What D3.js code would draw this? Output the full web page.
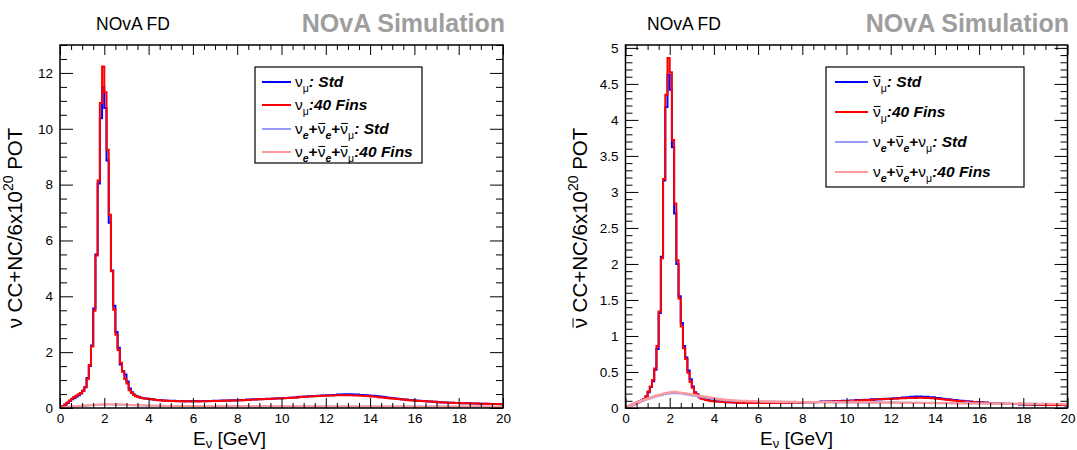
<!DOCTYPE html>
<html><head><meta charset="utf-8">
<script src="https://cdn.jsdelivr.net/npm/d3@7"></script>
<style>html,body{margin:0;padding:0;background:#fff;}svg{display:block;}</style>
</head><body>
<svg id="c" width="1077" height="450"></svg>
<script>
// ---------------- DATA (bin contents, 0.1 GeV bins from 0 to 20 GeV) ----------------
const binLow = d3.range(0, 200).map(i => +(i * 0.1).toFixed(1));
const xMajorTicks = [0,2,4,6,8,10,12,14,16,18,20];
const yMajorLeft = [0,2,4,6,8,10,12];
const yMajorRight = [0,0.5,1,1.5,2,2.5,3,3.5,4,4.5,5];

// Left: neutrino mode
const L_numu_std = [0.02,0.06,0.12,0.18,0.25,0.31,0.36,0.41,0.46,0.52,
 0.62,0.74,1.07,1.50,2.24,3.56,5.50,8.04,10.38,11.49,
 10.74,8.86,6.63,4.92,3.66,2.72,2.16,1.56,1.32,1.20,
 0.95,0.70,0.56,0.48,0.43,0.40,0.37,0.36,0.34,0.33,
 0.32,0.31,0.30,0.29,0.29,0.28,0.27,0.27,0.26,0.26,
 0.25,0.26,0.25,0.25,0.24,0.25,0.24,0.24,0.25,0.24,
 0.24,0.25,0.24,0.24,0.25,0.24,0.25,0.25,0.25,0.26,
 0.25,0.26,0.26,0.27,0.26,0.27,0.27,0.28,0.27,0.28,
 0.28,0.29,0.28,0.29,0.30,0.29,0.30,0.31,0.30,0.31,
 0.31,0.32,0.32,0.33,0.32,0.33,0.34,0.34,0.35,0.35,
 0.35,0.36,0.36,0.37,0.37,0.38,0.38,0.39,0.40,0.40,
 0.41,0.41,0.42,0.42,0.43,0.43,0.44,0.44,0.45,0.45,
 0.46,0.46,0.46,0.47,0.47,0.48,0.48,0.48,0.49,0.49,
 0.49,0.49,0.48,0.48,0.48,0.47,0.47,0.46,0.46,0.45,
 0.44,0.44,0.43,0.42,0.41,0.40,0.39,0.38,0.37,0.36,
 0.35,0.34,0.33,0.32,0.31,0.30,0.30,0.29,0.28,0.28,
 0.27,0.26,0.26,0.25,0.25,0.24,0.23,0.23,0.22,0.22,
 0.21,0.21,0.21,0.20,0.20,0.19,0.19,0.19,0.18,0.18,
 0.18,0.17,0.17,0.17,0.17,0.16,0.16,0.16,0.16,0.15,
 0.15,0.15,0.15,0.15,0.14,0.14,0.14,0.14,0.14,0.13];

const L_numu_fins = [0.02,0.07,0.13,0.20,0.27,0.33,0.39,0.44,0.49,0.54,
 0.62,0.75,1.04,1.54,2.20,3.48,5.46,8.15,10.92,12.23,
 11.31,9.25,6.92,4.90,3.52,2.62,2.08,1.62,1.30,1.04,
 0.88,0.64,0.54,0.47,0.42,0.39,0.37,0.35,0.34,0.33,
 0.32,0.31,0.30,0.29,0.28,0.28,0.27,0.26,0.26,0.25,
 0.25,0.25,0.24,0.25,0.24,0.24,0.23,0.24,0.24,0.23,
 0.24,0.24,0.23,0.24,0.24,0.24,0.24,0.24,0.25,0.25,
 0.25,0.25,0.26,0.26,0.26,0.27,0.26,0.27,0.27,0.27,
 0.28,0.28,0.28,0.29,0.29,0.29,0.30,0.30,0.30,0.31,
 0.31,0.31,0.32,0.32,0.32,0.33,0.33,0.34,0.34,0.34,
 0.35,0.35,0.36,0.36,0.37,0.37,0.38,0.38,0.39,0.39,
 0.40,0.40,0.41,0.41,0.42,0.42,0.43,0.43,0.44,0.44,
 0.44,0.45,0.45,0.45,0.46,0.46,0.46,0.46,0.46,0.46,
 0.46,0.46,0.45,0.45,0.45,0.44,0.44,0.43,0.43,0.42,
 0.41,0.41,0.40,0.39,0.38,0.38,0.37,0.36,0.35,0.34,
 0.34,0.33,0.32,0.31,0.30,0.30,0.29,0.28,0.28,0.27,
 0.26,0.26,0.25,0.25,0.24,0.24,0.23,0.23,0.22,0.22,
 0.21,0.21,0.20,0.20,0.20,0.19,0.19,0.19,0.18,0.18,
 0.18,0.17,0.17,0.17,0.17,0.16,0.16,0.16,0.16,0.15,
 0.15,0.15,0.15,0.14,0.14,0.14,0.14,0.14,0.13,0.13];

const L_bkg_std = [0.00,0.01,0.02,0.03,0.04,0.05,0.06,0.065,0.07,0.075,
 0.08,0.085,0.09,0.095,0.10,0.105,0.11,0.115,0.12,0.12,
 0.125,0.125,0.125,0.125,0.125,0.12,0.12,0.12,0.115,0.11,
 0.11,0.105,0.10,0.10,0.095,0.095,0.09,0.09,0.09,0.085,
 0.085,0.08,0.08,0.08,0.078,0.077,0.076,0.075,0.073,0.072,
 0.07,0.07,0.069,0.07,0.068,0.068,0.069,0.067,0.066,0.067,
 0.066,0.065,0.066,0.064,0.065,0.064,0.063,0.064,0.063,0.062,
 0.063,0.062,0.062,0.061,0.062,0.061,0.06,0.061,0.06,0.06,
 0.061,0.06,0.059,0.06,0.06,0.059,0.06,0.059,0.058,0.059,
 0.059,0.058,0.059,0.058,0.058,0.059,0.058,0.057,0.058,0.058,
 0.058,0.057,0.058,0.057,0.057,0.058,0.057,0.056,0.057,0.057,
 0.056,0.057,0.056,0.056,0.057,0.056,0.055,0.056,0.056,0.055,
 0.056,0.055,0.055,0.056,0.055,0.054,0.055,0.055,0.054,0.055,
 0.054,0.054,0.055,0.054,0.053,0.054,0.054,0.053,0.054,0.053,
 0.053,0.054,0.053,0.052,0.053,0.053,0.052,0.053,0.052,0.052,
 0.052,0.053,0.052,0.051,0.052,0.052,0.051,0.052,0.051,0.051,
 0.051,0.052,0.051,0.05,0.051,0.051,0.05,0.051,0.05,0.05,
 0.05,0.051,0.05,0.049,0.05,0.05,0.049,0.05,0.049,0.049,
 0.049,0.05,0.049,0.048,0.049,0.049,0.048,0.049,0.048,0.048,
 0.048,0.049,0.048,0.047,0.048,0.048,0.047,0.048,0.047,0.047];

const L_bkg_fins = [0.00,0.01,0.02,0.035,0.045,0.055,0.065,0.07,0.075,0.08,
 0.085,0.09,0.095,0.10,0.105,0.11,0.115,0.12,0.125,0.13,
 0.13,0.135,0.135,0.135,0.135,0.13,0.13,0.125,0.125,0.12,
 0.115,0.11,0.11,0.105,0.10,0.10,0.095,0.095,0.09,0.09,
 0.088,0.086,0.085,0.083,0.081,0.08,0.078,0.077,0.075,0.074,
 0.073,0.072,0.072,0.071,0.071,0.07,0.071,0.069,0.07,0.069,
 0.068,0.069,0.067,0.068,0.067,0.066,0.067,0.066,0.065,0.066,
 0.065,0.064,0.065,0.064,0.064,0.063,0.064,0.063,0.062,0.063,
 0.063,0.062,0.062,0.063,0.062,0.061,0.062,0.061,0.062,0.061,
 0.061,0.06,0.061,0.06,0.061,0.06,0.06,0.061,0.06,0.06,
 0.06,0.059,0.06,0.059,0.06,0.059,0.059,0.06,0.059,0.058,
 0.059,0.058,0.059,0.058,0.058,0.059,0.058,0.057,0.058,0.058,
 0.057,0.058,0.057,0.057,0.058,0.057,0.056,0.057,0.057,0.056,
 0.057,0.056,0.056,0.057,0.056,0.055,0.056,0.056,0.055,0.056,
 0.055,0.055,0.056,0.055,0.054,0.055,0.055,0.054,0.055,0.054,
 0.054,0.055,0.054,0.053,0.054,0.054,0.053,0.054,0.053,0.053,
 0.053,0.054,0.053,0.052,0.053,0.053,0.052,0.053,0.052,0.052,
 0.052,0.053,0.052,0.051,0.052,0.052,0.051,0.052,0.051,0.051,
 0.051,0.052,0.051,0.05,0.051,0.051,0.05,0.051,0.05,0.05,
 0.05,0.051,0.05,0.049,0.05,0.05,0.049,0.05,0.049,0.049];

// Right: antineutrino mode
const R_anumu_std = [0.01,0.02,0.035,0.05,0.065,0.08,0.095,0.105,0.12,0.16,
 0.22,0.29,0.37,0.53,0.82,1.32,2.10,3.16,4.18,4.63,
 4.42,3.62,2.70,2.00,1.55,1.18,0.86,0.70,0.52,0.40,
 0.30,0.22,0.19,0.16,0.14,0.13,0.12,0.11,0.105,0.10,
 0.10,0.095,0.09,0.09,0.085,0.085,0.08,0.08,0.08,0.075,
 0.075,0.075,0.07,0.075,0.07,0.07,0.075,0.07,0.07,0.07,
 0.07,0.075,0.07,0.07,0.075,0.07,0.075,0.075,0.07,0.075,
 0.075,0.08,0.075,0.075,0.08,0.075,0.08,0.08,0.075,0.08,
 0.08,0.08,0.085,0.08,0.085,0.085,0.08,0.085,0.09,0.085,
 0.09,0.09,0.085,0.09,0.095,0.09,0.095,0.095,0.10,0.095,
 0.10,0.10,0.105,0.10,0.11,0.105,0.11,0.11,0.115,0.11,
 0.115,0.12,0.115,0.12,0.125,0.12,0.125,0.13,0.125,0.13,
 0.13,0.135,0.135,0.14,0.14,0.145,0.14,0.15,0.15,0.155,
 0.15,0.16,0.155,0.16,0.155,0.15,0.155,0.15,0.145,0.15,
 0.14,0.14,0.135,0.13,0.125,0.12,0.12,0.115,0.11,0.11,
 0.105,0.10,0.10,0.095,0.095,0.09,0.09,0.085,0.085,0.08,
 0.08,0.08,0.075,0.075,0.07,0.07,0.07,0.065,0.065,0.065,
 0.06,0.06,0.06,0.06,0.055,0.055,0.055,0.055,0.05,0.05,
 0.05,0.05,0.05,0.05,0.045,0.045,0.045,0.045,0.045,0.045,
 0.04,0.04,0.04,0.04,0.04,0.04,0.04,0.04,0.04,0.035];

const R_anumu_fins = [0.01,0.02,0.035,0.05,0.065,0.08,0.095,0.105,0.12,0.16,
 0.23,0.30,0.39,0.55,0.86,1.34,2.08,3.18,4.35,4.86,
 4.66,3.72,2.84,2.05,1.52,1.13,0.83,0.68,0.49,0.36,
 0.28,0.21,0.18,0.15,0.13,0.12,0.11,0.105,0.10,0.095,
 0.095,0.09,0.09,0.085,0.085,0.08,0.08,0.08,0.075,0.075,
 0.075,0.07,0.075,0.07,0.07,0.072,0.068,0.07,0.07,0.068,
 0.07,0.07,0.072,0.068,0.07,0.072,0.07,0.074,0.07,0.072,
 0.074,0.072,0.076,0.074,0.075,0.078,0.075,0.077,0.08,0.076,
 0.078,0.08,0.08,0.082,0.08,0.083,0.085,0.082,0.085,0.087,
 0.086,0.088,0.09,0.088,0.09,0.093,0.092,0.095,0.094,0.097,
 0.098,0.10,0.10,0.102,0.105,0.104,0.107,0.108,0.11,0.11,
 0.112,0.115,0.114,0.118,0.12,0.12,0.122,0.125,0.124,0.127,
 0.128,0.13,0.13,0.133,0.135,0.134,0.137,0.138,0.14,0.14,
 0.142,0.14,0.143,0.141,0.142,0.14,0.14,0.138,0.137,0.135,
 0.13,0.128,0.124,0.12,0.117,0.113,0.11,0.106,0.103,0.10,
 0.098,0.095,0.093,0.09,0.088,0.086,0.084,0.082,0.08,0.078,
 0.076,0.075,0.073,0.072,0.07,0.068,0.067,0.066,0.064,0.063,
 0.062,0.06,0.059,0.058,0.057,0.056,0.055,0.054,0.053,0.052,
 0.051,0.05,0.05,0.049,0.048,0.047,0.047,0.046,0.045,0.045,
 0.044,0.043,0.043,0.042,0.042,0.041,0.041,0.04,0.04,0.039];

const R_bkg_std = [0.005,0.02,0.035,0.05,0.065,0.08,0.09,0.10,0.11,0.12,
 0.13,0.14,0.15,0.16,0.17,0.175,0.18,0.19,0.195,0.20,
 0.205,0.205,0.21,0.205,0.20,0.20,0.195,0.19,0.185,0.18,
 0.175,0.17,0.165,0.16,0.155,0.15,0.145,0.14,0.135,0.13,
 0.125,0.12,0.118,0.115,0.11,0.108,0.105,0.103,0.10,0.10,
 0.098,0.10,0.095,0.097,0.094,0.096,0.092,0.095,0.09,0.093,
 0.09,0.092,0.088,0.091,0.087,0.09,0.086,0.089,0.085,0.088,
 0.086,0.088,0.084,0.087,0.085,0.083,0.086,0.084,0.082,0.085,
 0.083,0.081,0.084,0.082,0.08,0.083,0.081,0.084,0.08,0.082,
 0.081,0.079,0.083,0.08,0.078,0.082,0.08,0.085,0.079,0.081,
 0.08,0.078,0.09,0.08,0.077,0.081,0.079,0.078,0.08,0.076,
 0.078,0.08,0.076,0.079,0.095,0.078,0.076,0.078,0.075,0.077,
 0.076,0.074,0.077,0.075,0.073,0.076,0.074,0.072,0.075,0.073,
 0.072,0.074,0.071,0.073,0.07,0.072,0.071,0.069,0.072,0.07,
 0.069,0.071,0.068,0.07,0.067,0.069,0.068,0.066,0.069,0.067,
 0.066,0.068,0.065,0.067,0.075,0.066,0.064,0.066,0.065,0.063,
 0.065,0.063,0.064,0.062,0.064,0.061,0.063,0.062,0.06,0.062,
 0.061,0.06,0.062,0.059,0.061,0.06,0.058,0.06,0.059,0.058,
 0.059,0.057,0.059,0.058,0.056,0.058,0.057,0.056,0.058,0.056,
 0.055,0.057,0.056,0.054,0.056,0.055,0.054,0.055,0.053,0.054];

const R_bkg_fins = [0.005,0.02,0.035,0.05,0.065,0.08,0.095,0.105,0.115,0.125,
 0.135,0.145,0.155,0.165,0.175,0.185,0.19,0.20,0.21,0.215,
 0.22,0.225,0.225,0.22,0.215,0.21,0.205,0.20,0.195,0.19,
 0.185,0.18,0.175,0.17,0.165,0.16,0.155,0.15,0.145,0.14,
 0.135,0.13,0.125,0.12,0.118,0.115,0.112,0.11,0.108,0.105,
 0.102,0.098,0.10,0.096,0.099,0.094,0.097,0.093,0.096,0.092,
 0.094,0.09,0.093,0.089,0.092,0.088,0.091,0.087,0.09,0.086,
 0.089,0.085,0.088,0.084,0.087,0.083,0.086,0.084,0.085,0.082,
 0.084,0.081,0.083,0.08,0.082,0.084,0.079,0.081,0.083,0.079,
 0.08,0.082,0.078,0.081,0.079,0.08,0.077,0.08,0.078,0.079,
 0.077,0.079,0.076,0.078,0.08,0.076,0.077,0.075,0.078,0.076,
 0.075,0.077,0.074,0.076,0.075,0.073,0.076,0.074,0.072,0.075,
 0.073,0.075,0.072,0.074,0.071,0.073,0.072,0.07,0.073,0.071,
 0.07,0.072,0.069,0.071,0.07,0.068,0.07,0.069,0.067,0.069,
 0.068,0.066,0.068,0.067,0.065,0.067,0.066,0.064,0.066,0.065,
 0.064,0.066,0.063,0.065,0.064,0.062,0.064,0.063,0.061,0.063,
 0.062,0.064,0.061,0.063,0.062,0.06,0.062,0.061,0.059,0.061,
 0.06,0.062,0.059,0.061,0.06,0.058,0.06,0.059,0.068,0.059,
 0.058,0.06,0.057,0.059,0.058,0.056,0.058,0.057,0.055,0.057,
 0.056,0.058,0.055,0.057,0.056,0.054,0.056,0.055,0.053,0.055];

// ---------------- DRAWING ----------------
const FONT = "'Liberation Sans', Arial, Helvetica, sans-serif";
const C_BLUE = "#0000ff", C_RED = "#ff0000", C_LBLUE = "#9a9aff", C_PINK = "#ff9a9a";
const svg = d3.select("#c");
svg.append("rect").attr("width",1077).attr("height",450).attr("fill","#fff");

function rich(parent, x, y, parts, size, anchor, subShift) {
  const t = parent.append("text").attr("x", x).attr("y", y)
    .attr("font-family", FONT).attr("font-size", size)
    .attr("text-anchor", anchor || "start").attr("fill", "#000");
  let cur = 0, idx = 0; const bars = [];
  const ss = subShift == null ? 0.3 : subShift;
  parts.forEach(p => {
    const shift = p.sub ? ss * size : (p.sup ? -0.42 * size : 0);
    const pfs = (p.sub || p.sup) ? size * 0.68 : size;
    const ts = t.append("tspan").attr("dy", shift - cur).attr("font-size", pfs).text(p.t);
    if (p.b) ts.attr("font-weight", "bold");
    if (p.i) ts.attr("font-style", "italic");
    cur = shift;
    if (p.bar) bars.push({ idx, shift, pfs });
    idx += p.t.length;
  });
  bars.forEach(b => {
    const e = t.node().getExtentOfChar(b.idx);
    const yy = y + b.shift - 0.68 * b.pfs;
    parent.append("line").attr("x1", e.x + 0.8).attr("x2", e.x + e.width - 0.2)
      .attr("y1", yy).attr("y2", yy).attr("stroke", "#000").attr("stroke-width", 1);
  });
  return t;
}

const panels = [
  { px0: 60, px1: 503, py0: 408, py1: 45, ymax: 13.0, yMajor: yMajorLeft, yMinorStep: 0.5,
    series: [[L_numu_std, C_BLUE], [L_numu_fins, C_RED], [L_bkg_std, C_LBLUE], [L_bkg_fins, C_PINK]],
    fd: 96, simEnd: 505, ytx: 22, xtx: 193, antiTitle: false,
    legend: { x: 255, y: 67, w: 167, h: 96, lx0: 262, lx1: 291, tx: 295, rows: [82, 105, 129, 152], size: 15.5 },
    labels: [
      [{t:"ν"},{t:"μ",sub:1},{t:": Std",b:1,i:1}],
      [{t:"ν"},{t:"μ",sub:1},{t:":40 Fins",b:1,i:1}],
      [{t:"ν"},{t:"e",sub:1,b:1,i:1},{t:"+",b:1},{t:"ν",bar:1},{t:"e",sub:1,b:1,i:1},{t:"+",b:1},{t:"ν",bar:1},{t:"μ",sub:1},{t:": Std",b:1,i:1}],
      [{t:"ν"},{t:"e",sub:1,b:1,i:1},{t:"+",b:1},{t:"ν",bar:1},{t:"e",sub:1,b:1,i:1},{t:"+",b:1},{t:"ν",bar:1},{t:"μ",sub:1},{t:":40 Fins",b:1,i:1}]
    ] },
  { px0: 625.5, px1: 1067.5, py0: 408, py1: 45, ymax: 5.04, yMajor: yMajorRight, yMinorStep: 0.1,
    series: [[R_anumu_std, C_BLUE], [R_anumu_fins, C_RED], [R_bkg_std, C_LBLUE], [R_bkg_fins, C_PINK]],
    fd: 647, simEnd: 1069, ytx: 587, xtx: 760, antiTitle: true,
    legend: { x: 826, y: 67, w: 198, h: 120, lx0: 835, lx1: 868, tx: 873, rows: [82, 112, 142, 172], size: 15.5 },
    labels: [
      [{t:"ν",bar:1},{t:"μ",sub:1},{t:": Std",b:1,i:1}],
      [{t:"ν",bar:1},{t:"μ",sub:1},{t:":40 Fins",b:1,i:1}],
      [{t:"ν"},{t:"e",sub:1,b:1,i:1},{t:"+",b:1},{t:"ν",bar:1},{t:"e",sub:1,b:1,i:1},{t:"+",b:1},{t:"ν"},{t:"μ",sub:1},{t:": Std",b:1,i:1}],
      [{t:"ν"},{t:"e",sub:1,b:1,i:1},{t:"+",b:1},{t:"ν",bar:1},{t:"e",sub:1,b:1,i:1},{t:"+",b:1},{t:"ν"},{t:"μ",sub:1},{t:":40 Fins",b:1,i:1}]
    ] }
];

panels.forEach((P, pi) => {
  const g = svg.append("g");
  const x = d3.scaleLinear().domain([0, 20]).range([P.px0, P.px1]);
  const y = d3.scaleLinear().domain([0, P.ymax]).range([P.py0, P.py1]);
  const xMinor = d3.range(0, 20.001, 0.5).filter(v => Math.abs(v / 2 - Math.round(v / 2)) > 1e-6);
  const yMinor = d3.range(0, P.ymax + 1e-6, P.yMinorStep).filter(v => !P.yMajor.some(m => Math.abs(m - v) < 1e-6));

  const clipId = "clip" + pi;
  svg.append("clipPath").attr("id", clipId).append("rect")
    .attr("x", P.px0).attr("y", P.py1).attr("width", P.px1 - P.px0).attr("height", P.py0 - P.py1);

  // histograms
  const line = d3.line().x(d => x(d[0])).y(d => y(d[1])).curve(d3.curveStepAfter);
  P.series.forEach(([vals, col]) => {
    const pts = vals.map((v, i) => [binLow[i], v]);
    pts.push([20, vals[vals.length - 1]]);
    g.append("path").attr("d", line(pts)).attr("fill", "none").attr("stroke", col)
      .attr("stroke-width", 2).attr("clip-path", `url(#${clipId})`);
  });

  // axes (ticks pointing inward on all 4 sides)
  const styleAxis = sel => {
    sel.select(".domain").remove();
    sel.selectAll("line").attr("stroke", "#000").attr("stroke-width", 1);
    sel.selectAll("text").attr("font-family", FONT).attr("font-size", 13.5).attr("fill", "#000");
  };
  g.append("g").attr("transform", `translate(0,${P.py0})`)
    .call(d3.axisBottom(x).tickValues(xMajorTicks).tickSize(-10).tickPadding(5).tickFormat(d3.format("d"))).call(styleAxis);
  g.append("g").attr("transform", `translate(0,${P.py0})`)
    .call(d3.axisBottom(x).tickValues(xMinor).tickSize(-5).tickFormat("")).call(styleAxis);
  g.append("g").attr("transform", `translate(0,${P.py1})`)
    .call(d3.axisTop(x).tickValues(xMajorTicks).tickSize(-10).tickFormat("")).call(styleAxis);
  g.append("g").attr("transform", `translate(0,${P.py1})`)
    .call(d3.axisTop(x).tickValues(xMinor).tickSize(-5).tickFormat("")).call(styleAxis);
  g.append("g").attr("transform", `translate(${P.px0},0)`)
    .call(d3.axisLeft(y).tickValues(P.yMajor).tickSize(-13).tickPadding(7).tickFormat(d3.format("~g"))).call(styleAxis);
  g.append("g").attr("transform", `translate(${P.px0},0)`)
    .call(d3.axisLeft(y).tickValues(yMinor).tickSize(-7).tickFormat("")).call(styleAxis);
  g.append("g").attr("transform", `translate(${P.px1},0)`)
    .call(d3.axisRight(y).tickValues(P.yMajor).tickSize(-13).tickFormat("")).call(styleAxis);
  g.append("g").attr("transform", `translate(${P.px1},0)`)
    .call(d3.axisRight(y).tickValues(yMinor).tickSize(-7).tickFormat("")).call(styleAxis);

  // frame
  g.append("rect").attr("x", P.px0).attr("y", P.py1).attr("width", P.px1 - P.px0).attr("height", P.py0 - P.py1)
    .attr("fill", "none").attr("stroke", "#000").attr("stroke-width", 1.5);

  // titles
  g.append("text").attr("x", P.fd).attr("y", 30).attr("font-family", FONT).attr("font-size", 17.5).text("NOvA FD");
  g.append("text").attr("x", P.simEnd).attr("y", 32).attr("text-anchor", "end").attr("font-family", FONT)
    .attr("font-size", 25).attr("font-weight", "bold").attr("fill", "#9e9e9e").text("NOvA Simulation");

  // axis titles
  rich(g, P.xtx, 445, [{t:"E"},{t:"ν",sub:1},{t:" [GeV]"}], 19, "start", 0.17);
  const yt = g.append("g").attr("transform", `translate(${P.ytx},228) rotate(-90)`);
  rich(yt, 0, 0, [{t:"ν",bar:P.antiTitle},{t:" CC+NC/6x10"},{t:"20",sup:1},{t:" POT"}], 20.5, "middle");

  // legend
  const L = P.legend;
  const lg = g.append("g");
  lg.append("rect").attr("x", L.x).attr("y", L.y).attr("width", L.w).attr("height", L.h)
    .attr("fill", "#fff").attr("stroke", "#000").attr("stroke-width", 1.2);
  P.series.forEach(([vals, col], k) => {
    lg.append("line").attr("x1", L.lx0).attr("x2", L.lx1).attr("y1", L.rows[k]).attr("y2", L.rows[k])
      .attr("stroke", col).attr("stroke-width", 2);
    rich(lg, L.tx, L.rows[k] + 5, P.labels[k], L.size);
  });
});
</script>
</body></html>
